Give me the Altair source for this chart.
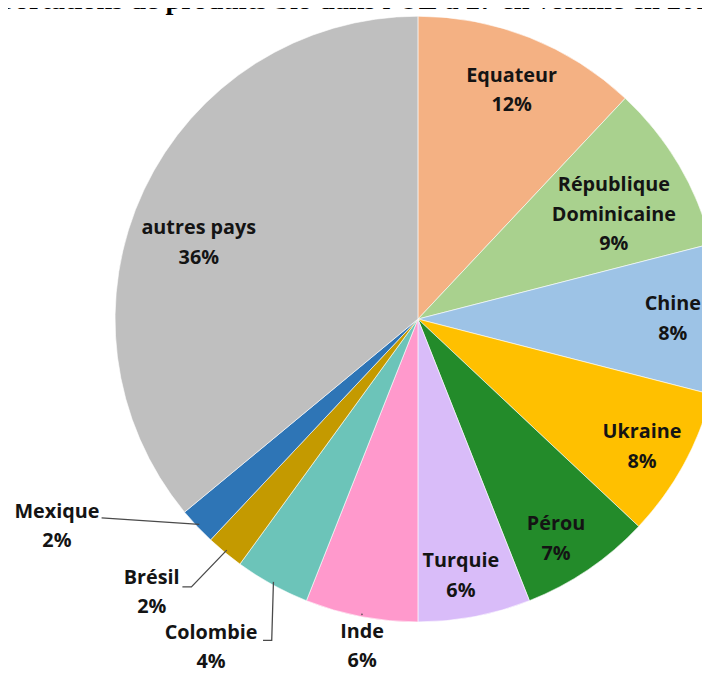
import math
import altair as alt
import pandas as pd

# ---- data ----
categories = ["Equateur", "République Dominicaine", "Chine", "Ukraine", "Pérou",
              "Turquie", "Inde", "Colombie", "Brésil", "Mexique", "autres pays"]
shares = [12, 9, 8, 8, 7, 6, 6, 4, 2, 2, 36]
label_names = ["Equateur", "République\nDominicaine", "Chine", "Ukraine", "Pérou",
               "Turquie", "Inde", "Colombie", "Brésil", "Mexique", "autres pays"]
colors = ["#F4B183", "#A9D18E", "#9DC3E6", "#FFC000", "#238B2A", "#D9BCF9",
          "#FF99CC", "#6CC4B9", "#C49A00", "#2E75B6", "#BFBFBF"]
title_text = "Importations de produits bio dans l'UE à 27 en volume en 2019"

# ---- layout (pixels, plot coordinates) ----
W, H = 702, 668
K = 1 / 0.989                      # page fits the window at this scale
CX, CY, R = 418 * K - 8, 315.3 * K - 8, 303 * K
LH = 29.5 * K
# label placement: (angle offset from slice middle in degrees, radius of block centre, dy)
label_layout = {
    "Equateur": (0.7, 247, 0), "République Dominicaine": (2.6, 222, 0), "Chine": (0, 255, 0),
    "Ukraine": (0.9, 258, 0), "Pérou": (2.1, 260, 0), "Turquie": (1.3, 260.6, 0),
    "Inde": (-1.6, 349, -17), "Colombie": (2.1, 403, -17), "Brésil": (4.6, 382, 0),
    "Mexique": (13.3, 416.6, 0), "autres pays": (-6.1, 232, 0),
}
# leader-line points relative to the label centre (last point sits on the slice rim)
leader_layout = {
    "Mexique": [(44.7, -8.7)],
    "Brésil": [(30.7, -6), (39.7, -6)],
    "Colombie": [(52, -7.3), (60.7, -7.3)],
    "Inde": [(0, -31.3)],
}

total = sum(shares)
rows, lab_rows, lead_rows = [], [], []
cum = 0.0
for i, (c, s, ln) in enumerate(zip(categories, shares, label_names)):
    mid = (cum + s / 2) / total * 360.0
    cum += s
    rows.append({"cat": c, "share": s, "idx": i})
    da, lr, dy0 = label_layout[c]
    a = math.radians(mid + da)
    lx = CX + K * lr * math.sin(a)
    ly = CY - K * lr * math.cos(a) + K * dy0
    txt = ln + "\n" + f"{s}%"
    nlines = txt.count("\n") + 1
    lab_rows.append({"cat": c, "txt": txt, "x": lx, "y": ly - (nlines - 1) * LH / 2})
    if c in leader_layout:
        am = math.radians(mid)
        pts = [(lx + K * dx, ly + K * dy) for dx, dy in leader_layout[c]]
        pts.append((CX + (R - 3) * math.sin(am), CY - (R - 3) * math.cos(am)))
        for k, (px, py) in enumerate(pts):
            lead_rows.append({"cat": c, "o": k, "x": px, "y": py})

df = pd.DataFrame(rows)
lab = pd.DataFrame(lab_rows)
lead = pd.DataFrame(lead_rows)

pie = alt.Chart(df).mark_arc(outerRadius=R, stroke="#ffffff", strokeWidth=0.6).encode(
    theta=alt.Theta("share:Q", stack=True),
    color=alt.Color("cat:N", scale=alt.Scale(domain=categories, range=colors), legend=None),
    order=alt.Order("idx:Q"),
    x=alt.value(CX),
    y=alt.value(CY),
)

lines = alt.Chart(lead).mark_line(color="#4a4a4a", strokeWidth=1.3).encode(
    x=alt.X("x:Q", scale=None, axis=None),
    y=alt.Y("y:Q", scale=None, axis=None),
    detail="cat:N",
    order="o:Q",
)

labels = alt.Chart(lab).mark_text(
    font="Open Sans", fontWeight="bold", fontSize=19.8 * K, color="#141414",
    align="center", baseline="middle", lineBreak="\n", lineHeight=LH,
).encode(
    x=alt.X("x:Q", scale=None, axis=None),
    y=alt.Y("y:Q", scale=None, axis=None),
    text="txt:N",
)

title = alt.Chart(pd.DataFrame({"t": [title_text]})).mark_text(
    font="Liberation Serif", fontWeight="bold", fontSize=28.6, color="#000000",
    align="left", baseline="alphabetic",
).encode(x=alt.value(-44), y=alt.value(-2.5), text="t:N")

chart = alt.layer(pie, lines, labels, title).properties(
    width=W, height=H, padding=0,
    autosize=alt.AutoSizeParams(type="none"),
).configure_view(strokeWidth=0)

chart.save("out.html", embed_options={"renderer": "svg", "actions": False})
